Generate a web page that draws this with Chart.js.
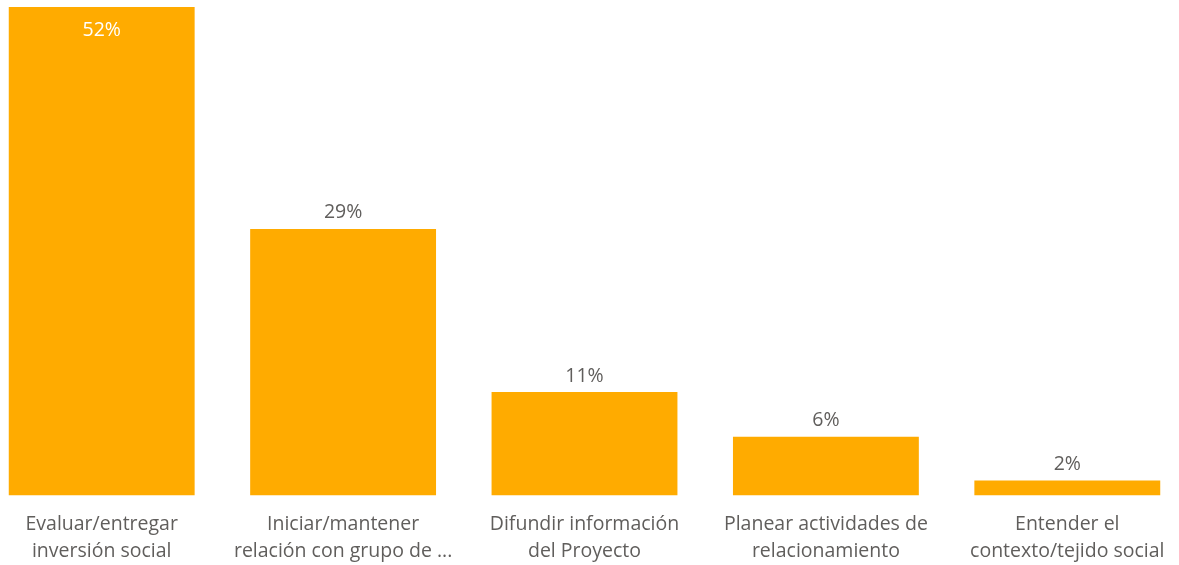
<!DOCTYPE html>
<html>
<head>
<meta charset="utf-8">
<script src="https://cdn.jsdelivr.net/npm/chart.js@4/dist/chart.umd.min.js"></script>
<style>
  html, body { margin: 0; padding: 0; background: #fff; overflow: hidden; }
  #wrap { position: absolute; left: -19px; top: 0; width: 1207px; height: 565px; }
</style>
</head>
<body>
<div id="wrap"><canvas id="bar-chart"></canvas></div>
<script>
const categories = [
  ['Evaluar/entregar', 'inversión social'],
  ['Iniciar/mantener', 'relación con grupo de ...'],
  ['Difundir información', 'del Proyecto'],
  ['Planear actividades de', 'relacionamiento'],
  ['Entender el', 'contexto/tejido social']
];
const shares = [52.4, 28.6, 11.1, 6.3, 1.6];

const FONT = '"Open Sans", "Noto Sans", sans-serif';
const GRAY = '#605E5C';

// value labels: inside the tallest bar, above the others
const valueLabels = {
  id: 'valueLabels',
  afterDatasetsDraw(chart) {
    const ctx = chart.ctx;
    const meta = chart.getDatasetMeta(0);
    ctx.save();
    ctx.font = '19.5px ' + FONT;
    ctx.textAlign = 'center';
    ctx.textBaseline = 'middle';
    meta.data.forEach((bar, i) => {
      const txt = Math.round(shares[i]) + '%';
      if (i === 0) {
        ctx.fillStyle = '#ffffff';
        ctx.fillText(txt, bar.x, bar.y + 23);
      } else {
        ctx.fillStyle = GRAY;
        ctx.fillText(txt, bar.x, bar.y - 16);
      }
    });
    ctx.restore();
  }
};

new Chart(document.getElementById('bar-chart').getContext('2d'), {
  type: 'bar',
  data: {
    labels: categories,
    datasets: [{
      data: shares,
      backgroundColor: '#FFAB00',
      barPercentage: 0.77,
      categoryPercentage: 1
    }]
  },
  options: {
    responsive: true,
    maintainAspectRatio: false,
    animation: false,
    layout: { padding: { top: 7, left: 0, right: 0, bottom: 0 } },
    plugins: { legend: { display: false }, tooltip: { enabled: false } },
    scales: {
      x: {
        grid: { display: false, drawTicks: false },
        border: { display: false },
        ticks: {
          color: GRAY,
          font: { family: FONT, size: 19.5, lineHeight: 1.385 },
          padding: 15.5,
          maxRotation: 0,
          autoSkip: false
        },
        afterFit(scale) { scale.height = 69.5; }
      },
      y: {
        display: false,
        min: 0,
        max: 52.4
      }
    }
  },
  plugins: [valueLabels]
});
</script>
</body>
</html>
